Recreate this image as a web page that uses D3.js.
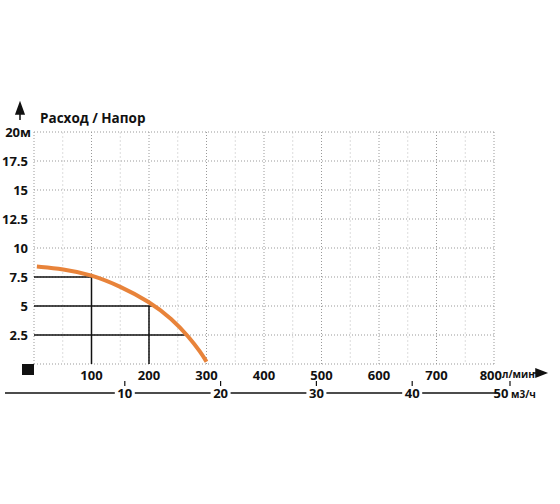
<!DOCTYPE html>
<html lang="ru">
<head>
<meta charset="UTF-8">
<script src="https://d3js.org/d3.v7.min.js"></script>
<style>
body{margin:0;background:#fff;}
text{font-family:'Open Sans',sans-serif;font-weight:bold;fill:#111;}
</style>
</head>
<body>
<script>
// data
var flowTicks = [100, 200, 300, 400, 500, 600, 700, 800];
var headTicks = [2.5, 5, 7.5, 10, 12.5, 15, 17.5];
var m3Ticks = [10, 20, 30, 40, 50];
var curveFlow = [5, 50, 100, 150, 200, 240, 270, 290, 300];
var curveHead = [8.4, 8.2, 7.7, 6.7, 5.4, 3.9, 2.3, 1.0, 0.2];
var refPoints = [[100, 7.5], [205, 5], [262, 2.5]];

var svg = d3.select('body').append('svg').attr('width', 560).attr('height', 504);
var x = d3.scaleLinear().domain([0, 800]).range([34, 494]);
var y = d3.scaleLinear().domain([0, 20]).range([364, 132]);
var xm = d3.scaleLinear().domain([0, 50]).range([29, 508]);

// grid
var minor = d3.range(50, 801, 50);
svg.selectAll('.vg').data(minor).enter().append('line')
  .attr('x1', d => x(d)).attr('x2', d => x(d)).attr('y1', y(20)).attr('y2', y(0))
  .attr('stroke', d => d % 100 ? '#ddd' : '#999')
  .attr('stroke-dasharray', d => d % 100 ? '2,2' : '1,2');
svg.selectAll('.hg').data(headTicks.concat([20, 0])).enter().append('line')
  .attr('x1', x(0)).attr('x2', x(800)).attr('y1', d => y(d)).attr('y2', d => y(d))
  .attr('stroke', '#999').attr('stroke-dasharray', '1,2');
svg.append('line').attr('x1', x(0)).attr('x2', x(0)).attr('y1', y(20)).attr('y2', y(0))
  .attr('stroke', '#999').attr('stroke-dasharray', '1,2');

// reference lines
refPoints.forEach(function(p) {
  svg.append('line').attr('x1', x(0)).attr('x2', x(p[0])).attr('y1', y(p[1])).attr('y2', y(p[1]))
    .attr('stroke', '#111').attr('stroke-width', 1.5);
});
[[100, 7.5], [200, 5]].forEach(function(p) {
  svg.append('line').attr('x1', x(p[0])).attr('x2', x(p[0])).attr('y1', y(p[1])).attr('y2', y(0))
    .attr('stroke', '#111').attr('stroke-width', 1.5);
});

// curve
svg.append('path')
  .datum(curveFlow.map((f, i) => [f, curveHead[i]]))
  .attr('d', d3.line().x(d => x(d[0])).y(d => y(d[1])).curve(d3.curveBasis))
  .attr('fill', 'none').attr('stroke', '#e8833a').attr('stroke-width', 4);

// y labels
svg.selectAll('.yl').data(headTicks).enter().append('text')
  .attr('x', 28).attr('y', d => y(d) + 5).attr('text-anchor', 'end')
  .style('font-size', '13px').text(d => d);
svg.append('text').attr('x', 31).attr('y', y(20) + 5).attr('text-anchor', 'end')
  .style('font-size', '13px').text('20м');
svg.append('text').attr('x', 40).attr('y', 123).style('font-size', '13.5px').text('Расход / Напор');
svg.append('path').attr('d', 'M20,103 L16,114 L24,114 Z M20,110 L20,120').attr('fill', '#111').attr('stroke', '#111').attr('stroke-width', 1.5);

// x labels
svg.append('rect').attr('x', 22).attr('y', 364).attr('width', 12).attr('height', 11).attr('fill', '#111');
svg.selectAll('.xl').data(flowTicks).enter().append('text')
  .attr('x', d => x(d)).attr('y', 380).attr('text-anchor', d => d === 800 ? 'end' : 'middle')
  .attr('dx', d => d === 800 ? 8 : 0)
  .style('font-size', '13px').text(d => d);
svg.append('text').attr('x', 502).attr('y', 378).style('font-size', '10px').text('л/мин');
svg.append('path').attr('d', 'M533,373 L546,373 M546,373 L536,369 L536,377 Z').attr('fill', '#111').attr('stroke', '#111').attr('stroke-width', 1.5);

// m3/h axis
svg.append('line').attr('x1', 5).attr('x2', 545).attr('y1', 393).attr('y2', 393).attr('stroke', '#111').attr('stroke-width', 1.5);
svg.append('path').attr('d', 'M546,393 L536,389 L536,397 Z').attr('fill', '#111');
svg.selectAll('.mb').data(m3Ticks).enter().append('rect')
  .attr('x', d => xm(d) - 10).attr('y', 385).attr('width', d => d === 50 ? 48 : 20).attr('height', 16).attr('fill', '#fff');
svg.selectAll('.mt').data(m3Ticks).enter().append('line')
  .attr('x1', d => xm(d) + (d === 50 ? 2 : 0)).attr('x2', d => xm(d) + (d === 50 ? 2 : 0))
  .attr('y1', 381).attr('y2', 386).attr('stroke', '#111').attr('stroke-width', 1.2);
svg.selectAll('.ml').data(m3Ticks).enter().append('text')
  .attr('x', d => xm(d) - (d === 50 ? 7 : 0)).attr('y', 398).attr('text-anchor', 'middle')
  .style('font-size', '13px').text(d => d);
svg.append('text').attr('x', 511).attr('y', 398).style('font-size', '10px').text('м3/ч');
</script>
</body>
</html>
